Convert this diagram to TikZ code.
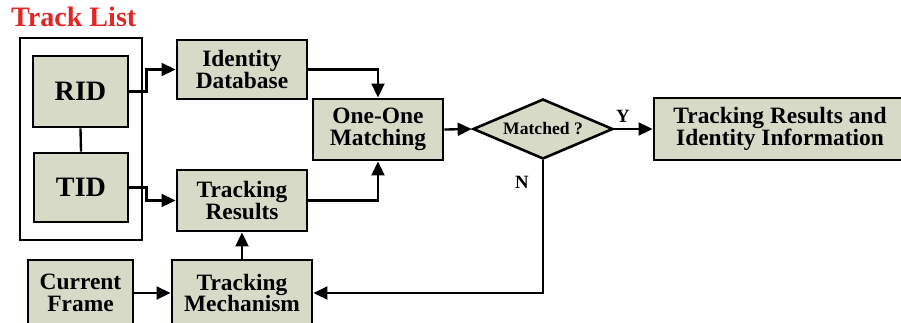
\documentclass[tikz,border=0pt]{standalone}
\usepackage{fontspec}
\setmainfont{Liberation Serif}[BoldFont={Liberation Serif Bold}]
\usetikzlibrary{arrows.meta,shapes.geometric}
\definecolor{boxfill}{RGB}{216,218,200}
\definecolor{titlered}{RGB}{226,38,38}
\tikzset{
  blk/.style={draw=black,line width=2.4pt,fill=boxfill,align=center,inner sep=0pt,
    font=\rmfamily\fontsize{20}{18.5}\selectfont\bfseries},
  bigblk/.style={blk,font=\rmfamily\fontsize{24}{24}\selectfont\bfseries},
  decide/.style={draw=black,line width=2.2pt,fill=boxfill,diamond,aspect=2.33,inner sep=0pt,
    font=\rmfamily\fontsize{15}{16}\selectfont\bfseries},
  link/.style={line width=2pt,-{Triangle[length=12pt,width=11pt]}},
  plain/.style={line width=2pt},
  tag/.style={font=\rmfamily\fontsize{16}{16}\selectfont\bfseries}
}
\begin{document}
\begin{tikzpicture}[x=0.03cm,y=-0.03cm]
\useasboundingbox (0,0) rectangle (901,322);
\clip (0,0) rectangle (901,322);
% title of the track list group
\node[anchor=west,text=titlered,font=\rmfamily\fontsize{24}{24}\selectfont\bfseries] (title) at (7,17) {Track List};
% track list frame with its two identity records
\node[draw=black,line width=2pt,inner sep=0pt,
      minimum width=3.66cm,minimum height=6.06cm] (list) at (81,139) {};
\node[bigblk,minimum width=2.85cm,minimum height=2.13cm] (rid) at (80.5,91.5) {RID};
\node[bigblk,minimum width=2.82cm,minimum height=2.07cm] (tid) at (81,187.5) {TID};
\draw[plain] (rid.south) -- (tid.north);
% processing blocks
\node[blk,minimum width=3.9cm,minimum height=1.77cm] (idb) at (242,69.5) {Identity\\Database};
\node[blk,minimum width=3.9cm,minimum height=1.83cm] (oom) at (378,129.5) {One-One\\Matching};
\node[blk,minimum width=3.9cm,minimum height=1.83cm] (trr) at (242,200.5) {Tracking\\Results};
\node[blk,minimum width=3.15cm,minimum height=1.98cm] (cfr) at (80.5,293) {Current\\Frame};
\node[blk,minimum width=4.2cm,minimum height=1.98cm] (tme) at (242,293) {Tracking\\Mechanism};
\node[decide,minimum width=4.2cm,minimum height=1.8cm] (mat) at (543,129) {Matched ?};
\node[blk,minimum width=7.56cm,minimum height=1.86cm] (out) at (780,129) {Tracking Results and\\Identity Information};
% connectors
\draw[link] (rid.east) -- ++(17,0) |- (idb.west);
\draw[link] (tid.east) -- ++(17,0) |- (trr.west);
\draw[link] (idb.east) -| (oom.north);
\draw[link] (trr.east) -| (oom.south);
\draw[link] (tme.north) -- (trr.south);
\draw[link] (cfr.east) -- (tme.west);
\draw[link] (oom.east) -- (mat.west);
\draw[link] (mat.east) -- (out.west);
\draw[link] (mat.south) |- (tme.east);
% decision labels
\node[tag] (yes) at (623,116) {Y};
\node[tag] (no) at (522,182) {N};
\end{tikzpicture}
\end{document}
